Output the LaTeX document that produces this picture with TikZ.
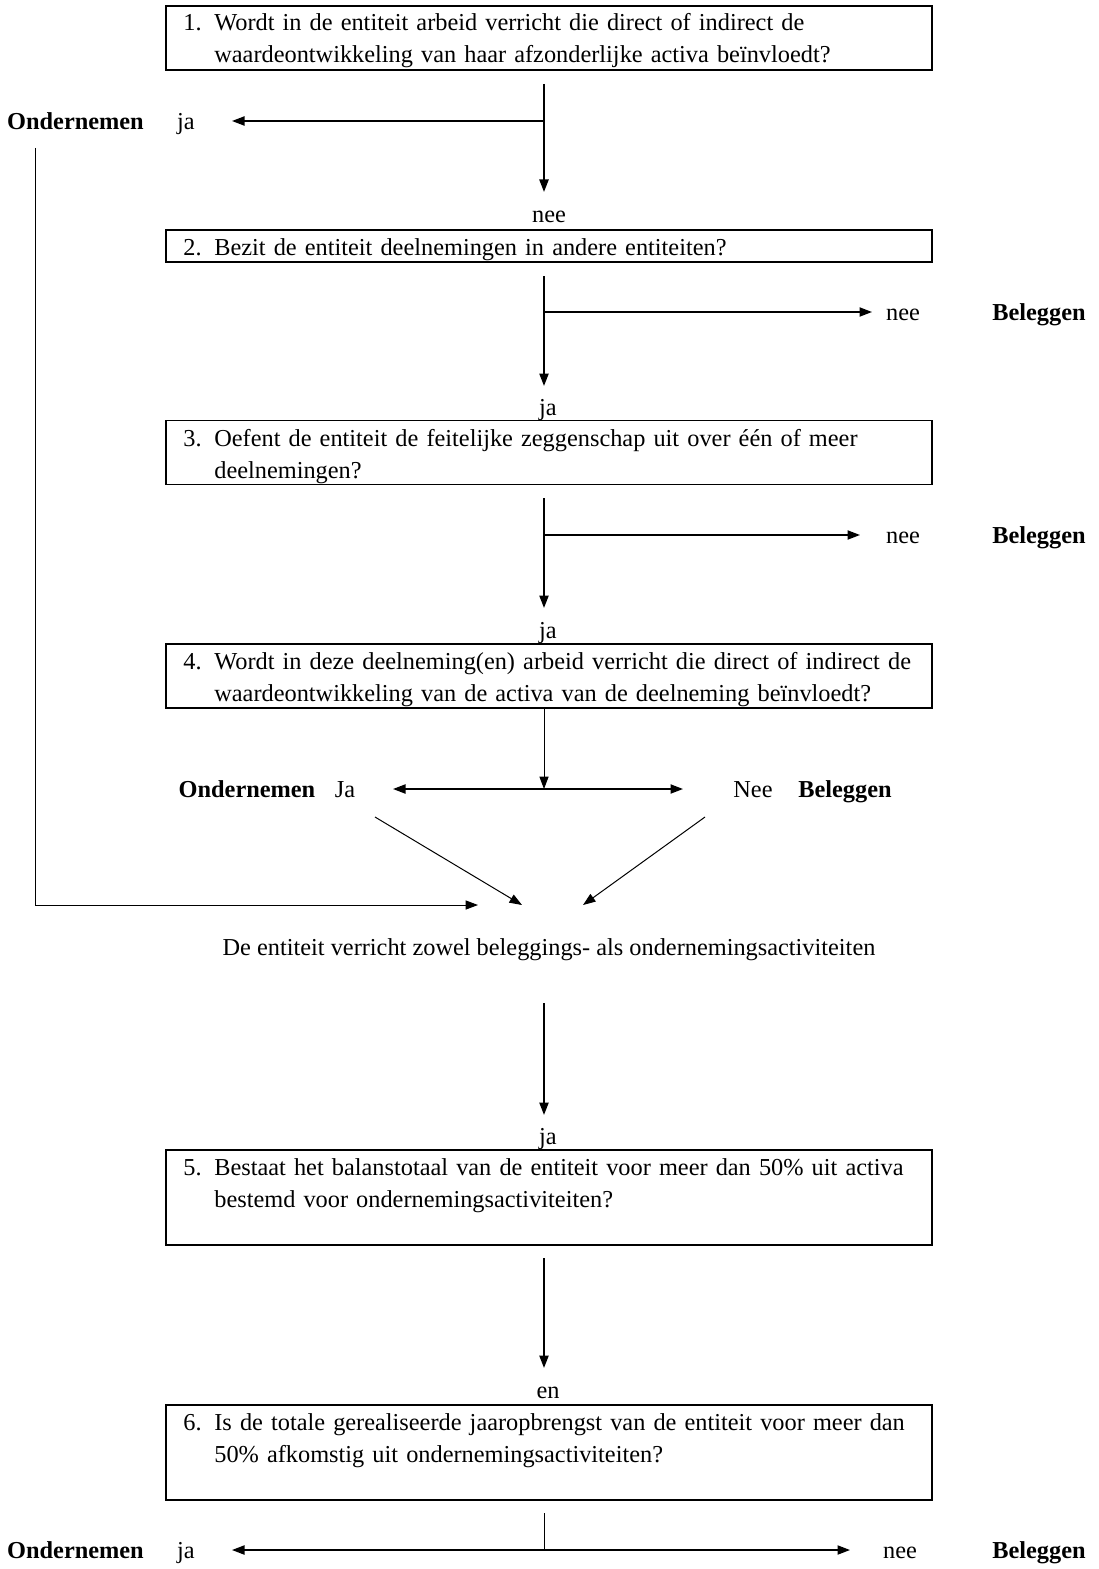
\documentclass[tikz,border=0pt]{standalone}
\usepackage{fontspec}
\setmainfont{Liberation Serif}
\usetikzlibrary{arrows.meta,positioning}

\newcommand\qnum[1]{\makebox[18.6pt][l]{#1}}
\newcommand\qind{\hspace*{18.6pt}}

\begin{document}
\begin{tikzpicture}[x=0.6pt,y=-0.6pt,>={Triangle[length=7.5pt,width=5.5pt]},font=\fontsize{14.6}{19.2}\selectfont]

\tikzset{
qbox/.style={
    draw,
    line width=0.7pt,
    minimum width=459.6pt,
    inner sep=0pt
},
qtext/.style={
    inner sep=0pt,
    anchor=base west,
    text width=439.2pt,
    align=left
},
lbl/.style={inner sep=0pt,anchor=mid,yshift=-3pt},
a/.style={->,line width=0.9pt},
am/.style={->,line width=1.1pt},
thin/.style={line width=0.6pt}
}

\useasboundingbox (0,0) rectangle (1099,1569);

% questions
\node[qbox,minimum height=38.4pt] (q1) at (549,38) {};
\node[qtext] (q1t) at (183,31)
{\qnum{1.}Wordt in de entiteit arbeid verricht die direct of indirect de\\\qind waardeontwikkeling van haar afzonderlijke activa beïnvloedt?};
\node[qbox,minimum height=19.2pt] (q2) at (549,246) {};
\node[qtext] (q2t) at (183,255)
{\qnum{2.}Bezit de entiteit deelnemingen in andere entiteiten?};
\node[qbox,minimum height=38.4pt] (q3) at (549,452.5) {};
\node[qtext] (q3t) at (183,446)
{\qnum{3.}Oefent de entiteit de feitelijke zeggenschap uit over één of meer\\\qind deelnemingen?};
\node[qbox,minimum height=38.4pt] (q4) at (549,676) {};
\node[qtext] (q4t) at (183,669)
{\qnum{4.}Wordt in deze deelneming(en) arbeid verricht die direct of indirect de\\\qind waardeontwikkeling van de activa van de deelneming beïnvloedt?};
\node[qbox,minimum height=57pt] (q5) at (549,1197.5) {};
\node[qtext] (q5t) at (183,1175)
{\qnum{5.}Bestaat het balanstotaal van de entiteit voor meer dan 50\% uit activa\\\qind bestemd voor ondernemingsactiviteiten?};
\node[qbox,minimum height=57pt] (q6) at (549,1452.5) {};
\node[qtext] (q6t) at (183,1430)
{\qnum{6.}Is de totale gerealiseerde jaaropbrengst van de entiteit voor meer dan\\\qind 50\% afkomstig uit ondernemingsactiviteiten?};

% answers
\node[lbl] (on1) at (75.5,121) {\textbf{Ondernemen}};
\node[lbl] (ja1) at (186,121) {ja};
\node[lbl] (nee1) at (549,214) {nee};
\node[lbl] (nee2) at (903,312) {nee};
\node[lbl] (bel2) at (1039,312) {\textbf{Beleggen}};
\node[lbl] (ja2) at (548,407) {ja};
\node[lbl] (nee3) at (903,535) {nee};
\node[lbl] (bel3) at (1039,535) {\textbf{Beleggen}};
\node[lbl] (ja3) at (548,630) {ja};
\node[lbl] (on4) at (247,789) {\textbf{Ondernemen}};
\node[lbl] (ja4) at (345,789) {Ja};
\node[lbl] (nee4) at (753,789) {Nee};
\node[lbl] (bel4) at (845,789) {\textbf{Beleggen}};
\node[lbl] (mix) at (549,947) {De entiteit verricht zowel beleggings- als ondernemingsactiviteiten};
\node[lbl] (ja5) at (548,1136) {ja};
\node[lbl] (en) at (548,1390) {en};
\node[lbl] (on6) at (75.5,1550) {\textbf{Ondernemen}};
\node[lbl] (ja6) at (186,1550) {ja};
\node[lbl] (nee6) at (900,1550) {nee};
\node[lbl] (bel6) at (1039,1550) {\textbf{Beleggen}};

% fork points and arrow ends
\coordinate (s1) at (544,84);
\coordinate (f1) at (544,121);
\coordinate (t1) at (544,192);
\coordinate (l1) at (232,121);
\coordinate (s2) at (544,276);
\coordinate (f2) at (544,312);
\coordinate (t2) at (544,386);
\coordinate (r2) at (872,312);
\coordinate (s3) at (544,498);
\coordinate (f3) at (544,535);
\coordinate (t3) at (544,608);
\coordinate (r3) at (860,535);
\coordinate (f4) at (544,789);
\coordinate (l4) at (393,789);
\coordinate (r4) at (683,789);
\coordinate (dl) at (375,817);
\coordinate (dr) at (705,817);
\coordinate (ml) at (522,905);
\coordinate (mr) at (583,905);
\coordinate (up) at (35,148);
\coordinate (lo) at (35,905);
\coordinate (mm) at (478,905);
\coordinate (s5) at (544,1003);
\coordinate (t5) at (544,1115);
\coordinate (s6) at (544,1258);
\coordinate (t6) at (544,1368);
\coordinate (s7) at (544,1513);
\coordinate (f7) at (544,1550);
\coordinate (l7) at (232,1550);
\coordinate (r7) at (850,1550);

\draw[am] (s1) -- (t1);
\draw[a] (f1) -- (l1);
\draw[am] (s2) -- (t2);
\draw[a] (f2) -- (r2);
\draw[am] (s3) -- (t3);
\draw[a] (f3) -- (r3);
\draw[a,thin] (q4.south -| f4) -- (f4);
\draw[a,<->] (l4) -- (r4);
\draw[a,thin] (dl) -- (ml);
\draw[a,thin] (dr) -- (mr);
\draw[a,thin] (up) -- (lo) -- (mm);
\draw[am] (s5) -- (t5);
\draw[am] (s6) -- (t6);
\draw[thin] (s7) -- (f7);
\draw[a,<->] (l7) -- (r7);

\end{tikzpicture}
\end{document}
